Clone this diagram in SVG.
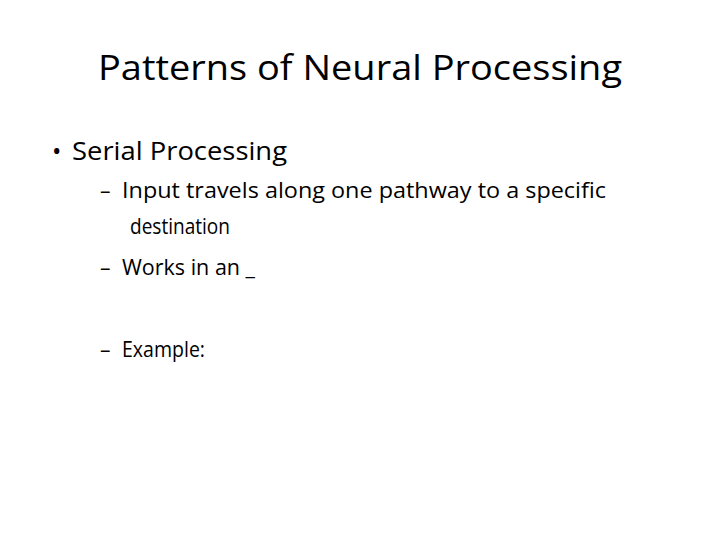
<svg xmlns="http://www.w3.org/2000/svg" width="720" height="540" viewBox="0 0 720 540">
<style>
text{font-family:"Open Sans","Liberation Sans",sans-serif;fill:#000}
.t{font-size:35px}
.b{font-size:25px}
.s{font-size:21px}
</style>
<rect width="720" height="540" fill="#fff"/>
<g id="title"><text class="t" x="360" y="80" text-anchor="middle" textLength="524" lengthAdjust="spacingAndGlyphs">Patterns of Neural Processing</text></g>
<g id="body">
<text class="b" x="52" y="160">•</text>
<text class="b" x="72" y="160" textLength="215" lengthAdjust="spacingAndGlyphs">Serial Processing</text>
<text class="s" x="100" y="198">–</text>
<text class="s" x="122" y="198" textLength="484" lengthAdjust="spacingAndGlyphs">Input travels along one pathway to a specific</text>
<text class="s" x="130" y="234" textLength="100" lengthAdjust="spacingAndGlyphs">destination</text>
<text class="s" x="100" y="275">–</text>
<text class="s" x="122" y="275" textLength="133" lengthAdjust="spacingAndGlyphs">Works in an _</text>
<text class="s" x="100" y="357">–</text>
<text class="s" x="122" y="357" textLength="83" lengthAdjust="spacingAndGlyphs">Example:</text>
</g>
</svg>
